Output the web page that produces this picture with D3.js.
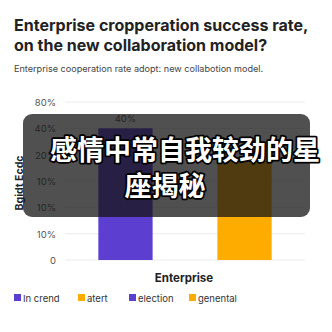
<!DOCTYPE html>
<html>
<head>
<meta charset="utf-8">
<script src="https://cdn.jsdelivr.net/npm/d3@7"></script>
<style>
  body { margin: 0; background: #fff; }
  svg { display: block; font-family: Inter, "Noto Sans", sans-serif; }
</style>
</head>
<body>
<svg id="chart" width="332" height="332"></svg>
<script>
// chart data
const categories = ["In crend", "atert"];
const values = [5, 3.75];            // position on the tick ladder
const valueLabels = ["40%", ""];
const tickLabels = ["0", "10%", "10%", "10%", "20%", "40%", "80%"];
const legendItems = ["In crend", "atert", "election", "genental"];
const colors = ["#5c3fd0", "#ffac00", "#5c3fd0", "#ffac00"];

const svg = d3.select("#chart");

// titles
svg.append("text")
  .attr("x", 14).attr("y", 31)
  .attr("font-size", 16).attr("font-weight", 700).attr("fill", "#222")
  .text("Enterprise cropperation success rate,");
svg.append("text")
  .attr("x", 14).attr("y", 51)
  .attr("font-size", 16).attr("font-weight", 700).attr("fill", "#222")
  .text("on the new collaboration model?");
svg.append("text")
  .attr("x", 14).attr("y", 72)
  .attr("font-size", 9.1).attr("fill", "#444")
  .text("Enterprise cooperation rate adopt: new collabotion model.");

// scales
const y = d3.scaleLinear().domain([0, 6]).range([260, 102]);
const x = d3.scaleBand().domain(categories).range([65, 305]).paddingInner(0.544).paddingOuter(0.28);

// grid
svg.append("g")
  .selectAll("line")
  .data(d3.range(7))
  .enter()
  .append("line")
  .attr("x1", 65).attr("x2", 305)
  .attr("y1", d => y(d)).attr("y2", d => y(d))
  .attr("stroke", "#ececec");

// y tick labels
svg.append("g")
  .selectAll("text")
  .data(tickLabels)
  .enter()
  .append("text")
  .attr("x", 56)
  .attr("y", (d, i) => y(i) + 4)
  .attr("text-anchor", "end")
  .attr("font-size", 9.5).attr("fill", "#555")
  .text(d => d);

// bars
svg.append("g")
  .selectAll("rect")
  .data(values)
  .enter()
  .append("rect")
  .attr("x", (d, i) => x(categories[i]))
  .attr("width", x.bandwidth())
  .attr("y", d => y(d))
  .attr("height", d => y(0) - y(d))
  .attr("fill", (d, i) => colors[i]);

svg.append("g")
  .selectAll("text")
  .data(values)
  .enter()
  .append("text")
  .attr("x", (d, i) => x(categories[i]) + x.bandwidth() / 2)
  .attr("y", d => y(d) - 6)
  .attr("text-anchor", "middle")
  .attr("font-size", 9.5).attr("fill", "#555")
  .text((d, i) => valueLabels[i]);

// axis titles
svg.append("text")
  .attr("x", 184).attr("y", 282)
  .attr("text-anchor", "middle")
  .attr("font-size", 11.5).attr("font-weight", 700).attr("fill", "#222")
  .text("Enterprise");
svg.append("text")
  .attr("transform", "translate(23,183) rotate(-90)")
  .attr("text-anchor", "middle")
  .attr("font-size", 10.5).attr("font-weight", 700).attr("fill", "#222")
  .text("Bgidt Ecdc");

// legend
const legendX = [14, 78, 129, 189];
const legend = svg.append("g")
  .selectAll("g")
  .data(legendItems)
  .enter()
  .append("g")
  .attr("transform", (d, i) => `translate(${legendX[i]},298)`);
legend.append("rect")
  .attr("x", 0).attr("y", -4).attr("width", 7).attr("height", 7)
  .attr("fill", (d, i) => colors[i]);
legend.append("text")
  .attr("x", 9).attr("y", 3.5)
  .attr("font-size", 9.5).attr("fill", "#333")
  .text(d => d);

// caption overlay
svg.append("rect")
  .attr("x", 23).attr("y", 114).attr("width", 287).attr("height", 103)
  .attr("rx", 9)
  .attr("fill", "rgba(22,22,22,0.75)");

const cap = svg.append("g")
  .attr("font-family", "'Noto Sans CJK SC', sans-serif")
  .attr("font-size", 27).attr("font-weight", 700);
[["感情中常自我较劲的星", 50, 160, "start"], ["座揭秘", 165, 196, "middle"]].forEach(function(l) {
  cap.append("text")
    .attr("x", l[1]).attr("y", l[2]).attr("text-anchor", l[3])
    .attr("fill", "#fff").attr("stroke", "#000").attr("stroke-width", 3.5)
    .attr("paint-order", "stroke").attr("stroke-linejoin", "round")
    .text(l[0]);
});
</script>
</body>
</html>
